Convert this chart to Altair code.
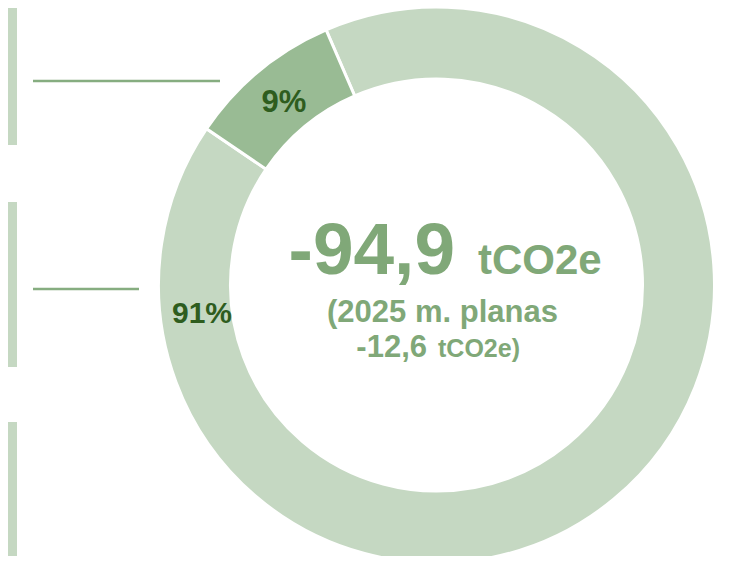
import math
import altair as alt
import pandas as pd

# ---- data ----
categories = ["Kita", "Dalis"]
shares = [91, 9]
share_labels = ["91%", "9%"]
slice_order = [1, 2]
slice_colors = ["#c5d8c2", "#99bb94"]

total_value = "-94,9"
total_unit = "tCO2e"
plan_line1 = "(2025 m. planas"
plan_value = "-12,6"
plan_unit = "tCO2e)"

FONT = "Liberation Sans"
TEXT_GREEN = "#80a878"
LABEL_GREEN = "#2e5d1e"
LIGHT = "#c5d8c2"
LINE_GREEN = "#86ad80"

df = pd.DataFrame({"cat": categories, "share": shares, "label": share_labels, "ord": slice_order})

CX, CY = 428.5, 277
start = math.radians(-23.4)

arc = alt.Chart(df).mark_arc(outerRadius=278, innerRadius=206, stroke="white", strokeWidth=3).encode(
    theta=alt.Theta("share:Q", stack=True,
                    scale=alt.Scale(domain=[0, 100], range=[start, start + 2 * math.pi])),
    order=alt.Order("ord:Q"),
    color=alt.Color("cat:N", scale=alt.Scale(domain=categories, range=slice_colors), legend=None),
    x=alt.value(CX),
    y=alt.value(CY),
)

base_txt = alt.Chart(df)

lab91 = alt.Chart(df[df["cat"] == "Kita"]).mark_text(
    font=FONT, fontWeight="bold", fontSize=30, color=LABEL_GREEN, align="center", baseline="alphabetic"
).encode(text="label:N", x=alt.value(194), y=alt.value(315))

lab9 = alt.Chart(df[df["cat"] == "Dalis"]).mark_text(
    font=FONT, fontWeight="bold", fontSize=31, color=LABEL_GREEN, align="center", baseline="alphabetic"
).encode(text="label:N", x=alt.value(276), y=alt.value(104))

one = pd.DataFrame({"a": [0]})

def txt(s, size, x, y, align):
    return alt.Chart(one).mark_text(
        text=s, font=FONT, fontWeight="bold", fontSize=size, color=TEXT_GREEN,
        align=align, baseline="alphabetic"
    ).encode(x=alt.value(x), y=alt.value(y))

t1 = txt(total_value, 73, 447, 266, "right")
t2 = txt(total_unit, 42, 470, 266, "left")
t3 = txt(plan_line1, 31, 434.5, 314, "center")
t4 = txt(plan_value, 31, 419, 349, "right")
t5 = txt(plan_unit, 25, 430, 349, "left")

def rect(y0, y1):
    return alt.Chart(one).mark_rect(color=LIGHT).encode(
        x=alt.value(0), x2=alt.value(9), y=alt.value(y0), y2=alt.value(y1))

r1 = rect(0, 137)
r2 = rect(194, 359)
r3 = rect(414, 560)

def hline(x0, x1, y):
    return alt.Chart(one).mark_rule(color=LINE_GREEN, strokeWidth=2.5).encode(
        x=alt.value(x0), x2=alt.value(x1), y=alt.value(y))

l1 = hline(25, 212, 73)
l2 = hline(25, 131, 281)

chart = alt.layer(r1, r2, r3, l1, l2, arc, lab91, lab9, t1, t2, t3, t4, t5).properties(
    width=714, height=548, padding=0, autosize=alt.AutoSizeParams(type="none")
).configure_view(stroke=None)

chart.save("out.html", embed_options={"renderer": "svg", "actions": False})
